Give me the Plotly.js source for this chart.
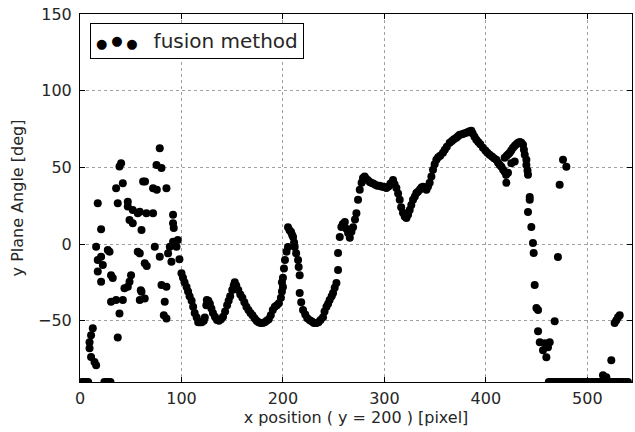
<!DOCTYPE html>
<html>
<head>
<meta charset="utf-8">
<script src="https://cdn.plot.ly/plotly-3.0.1.min.js"></script>
<style>html,body{margin:0;padding:0;background:#fff;}#chart{width:635px;height:432px;}</style>
</head>
<body>
<div id="chart"></div>
<script>
// Noisy start of the profile (x position, angle)
const noiseX = [2,4,6,8,9.4,9.4,10.9,10.9,12.6,14.3,15.9,15.9,17.5,17.5,17.5,20.8,20.8,20.8,22.5,24,26,28,30,27.4,29.1,30.6,32.3,30.6,35.6,37.2,35.6,37.2,38.9,38.9,40.5,42.2,42.2,43.8,47.1,47.1,47.1,48.8,48.8,50.3,52,52,56.9,56.9,58.9,58.9,58.9,59.9,60.6,60.6,62.2,64.1,63.8,63.8,65.5,65.8,72,72,73.7,75.4,75.7,78.6,78.6,80.3,80.3,82.6,83.5,85.2,85.2,85.2,86.8,88.5,90.1,91.7,91.7,92.4,91.7,95.1,96.4];
const noiseY = [-90,-90,-90,-90,-64,-68,-59.5,-73.7,-55,-77,-79,-1.8,-10.5,-18,26.6,-8.3,-24.6,9.6,-13.7,-90,-90,-90,-90,-3.9,-5,-20.3,-22.2,-37.7,-36.6,-61,36.4,26.6,-45.3,50.5,52.7,39.7,-36.6,-28.8,27.6,24.4,-27.9,15.7,-24.6,-20.3,22.2,13.5,20.1,-5,21.1,-6.1,-36.6,-30.1,9.2,-31.2,40.7,40.7,-12.6,-35.5,20.1,-14.4,36.4,20.1,-1.8,51.6,35.3,62.5,-8.3,49.5,-26.8,-46.4,-37.7,36.4,-27.9,-48.6,-6.1,-1.8,-11.6,19,13.5,10.5,1.5,-1.8,2.6];

// Main continuous part of the profile
const curveX = [98,100,101.5,103,105,106.5,108,110,111.5,113,115,116.5,118,120,122,123,124.5,125,126.5,128,129.5,131,133,135,137,139,141,143,145,146.5,148,150,151.5,152.5,154,156,158,160,162,164,166,168,170,172,174,176,178,180,182,184,186,188,190,192,194,196,198,199,200,199,200,201,202,203.5,205,205,206.5,208,209,210,211,211.6,213,214.9,215.5,216.5,216.5,218,219.8,222,224,226.4,228.5,230.5,233,235,237,239.5,241,242.9,244.5,246,248,249.4,251,252.7,254.3,254.3,256,257.6,259,261,262.5,264.2,265.9,267.5,269.1,271,272.4,274,275.7,277.5,278.9,280.5,282,283.8,285.5,287,289,291,293,295,297,298.6,300.5,302,304,306,308.5,310,311.8,313.5,315.1,316.5,318.3,320,321.7,323.3,324.9,326.5,328.2,330,331.5,333,335,336.5,338,340,341.4,343,344.6,346.3,347.9,349.5,351.2,353,355,357.7,359.5,361.5,364.3,366.5,368.5,370.9,372.5,374.2,376.5,378.5,380.8,382.5,384,385.7,387,388.8,390.6,392.5,394.5,397.1,399.5,401.5,403.7,406,408,410.3,412,413.7,415.3,417,418.5,420,421.8,420.2,418.5,420.5,422,423.5,425.1,425,426.7,428.4,428.5,430,431.7,433.5,435,436.6,437.5,438.3,439.9,439.9,441,441.5];
const curveY = [-10,-19,-22,-25,-28,-31,-34,-37,-41,-45,-48,-51,-51,-51,-50,-48,-40,-36.6,-37,-39,-42,-45,-47.5,-49.5,-50,-49,-47.5,-44,-40,-37,-34,-30,-27,-25,-27,-30,-33,-35,-38,-41,-43,-45,-46.5,-48.5,-50,-51,-51.5,-51.5,-51,-50,-49,-46.5,-43,-41,-40,-38.6,-35,-31,-28,-25,-22,-16,-10.5,-5,-2,11,9,7.8,6,4.6,1,-2,-6,-10.5,-15,-20.3,-32,-38,-43,-46,-48.5,-49.7,-50.5,-51.5,-51.6,-51,-49.5,-47.7,-44,-41,-39,-36.6,-34,-32,-28.5,-25.5,-17,-5.9,4.6,11.1,13,14.4,10,7.2,4,8,11,16,20,28.8,35.3,40,43.1,44,42.5,41.5,40.5,40,39.5,38.6,38,38,37.5,37.3,37,36.6,37.5,39.5,41.8,39,36.6,33,28.8,24,20.3,18,17,19,22.2,25.5,28.8,31,33.3,34,35.5,36.8,37.3,36.5,35.3,37.5,39.9,44,48.4,52,54.9,56.5,57.5,59.5,61.5,63.5,66,67.2,68.3,69.3,70.3,71.2,71.6,72,72.5,73,73.5,73.9,72,70,68,66.5,65,62.7,61,59.5,58.2,57,56,54.9,53,51.5,50.3,48.5,47.1,45,46.4,39.9,56.2,57.5,58.5,59.5,52.7,61,62.7,53.8,64,65,66,66.5,66,64.7,61.5,58.2,54.9,51.6,48,45.1];

// Falling tail and scattered points on the right
const tailX = [443.2,443.2,441.5,444.8,446.4,447.1,448.1,449.8,451.4,451.4,453.1,456.3,458,459.6,461.2,462.9,467.8,471,472.7,476,479.3,515.4,518.7,523.6,526.9,528.6,530.2,531.9];
const tailY = [30.7,28.8,20.9,11.1,0.7,-5.9,-26.8,-41.8,-43.1,-56.9,-64.1,-69.3,-64.7,-73.9,-67.3,-64.1,-50.3,-8.5,38.6,54.9,50.3,-85.6,-86.9,-75.8,-51.6,-49.7,-47.7,-46.4];

// Points sitting on the lower limit at the right end
const floorX = [462,464,466,468,470,472,474,476,478,480,482,484,486,488,490,492,494,496,498,500,502,504,506,508,510,512,514,516,518,520,522,524,526,528,530,532,534,536,538,540];
const floorY = [-90,-90,-90,-90,-90,-90,-90,-90,-90,-90,-90,-90,-90,-90,-90,-90,-90,-90,-90,-90,-90,-90,-90,-90,-90,-90,-90,-90,-90,-90,-90,-90,-90,-90,-90,-90,-90,-90,-90,-90];

const xTicks = [0,100,200,300,400,500];
const yTicks = [-50,0,50,100,150];
const seriesName = 'fusion method';

const xs = noiseX.concat(curveX, tailX, floorX);
const ys = noiseY.concat(curveY, tailY, floorY);

const font = 'DejaVu Sans, Liberation Sans, sans-serif';
const txt = '#262626';
const axisCommon = {
  ticks: 'inside', ticklen: 5, tickwidth: 1, tickcolor: '#000',
  showline: true, mirror: 'ticks', linecolor: '#000', linewidth: 1,
  showgrid: true, gridcolor: '#a0a0a0', gridwidth: 1, griddash: 'dot',
  zeroline: false, tickfont: {family: font, size: 16, color: txt}
};

const trace = {
  x: xs, y: ys, type: 'scatter', mode: 'markers', name: seriesName,
  marker: {color: '#000', size: 8, line: {width: 0}},
  showlegend: false, cliponaxis: true
};

const dotLow = '<span style="font-size:13px;color:#000">●</span>';
const dotHigh = '<span style="font-size:13px;color:#000;baseline-shift:3px">●</span>';
const gap = '<span style="font-size:12px"> </span>';

const layout = {
  width: 635, height: 432,
  margin: {l: 80, r: 3, t: 14, b: 50},
  paper_bgcolor: '#fff', plot_bgcolor: '#fff',
  font: {family: font, color: txt},
  xaxis: Object.assign({}, axisCommon, {
    range: [0, 544], tickvals: xTicks, ticklabelstandoff: 2,
    title: {text: 'x position ( y = 200 ) [pixel]', font: {family: font, size: 16, color: txt}, standoff: 4}
  }),
  yaxis: Object.assign({}, axisCommon, {
    range: [-90, 150], tickvals: yTicks, ticklabelstandoff: 4,
    title: {text: 'y Plane Angle [deg]', font: {family: font, size: 16, color: txt}, standoff: 10}
  }),
  annotations: [{
    xref: 'paper', yref: 'paper', x: 0.018, y: 0.976, xanchor: 'left', yanchor: 'top',
    showarrow: false, align: 'left',
    text: dotLow + gap + dotHigh + gap + dotLow + '<span style="font-size:20px">  </span><span style="font-size:10px"> </span>' + seriesName,
    font: {family: font, size: 20, color: txt},
    bordercolor: '#000', borderwidth: 1, borderpad: 5, bgcolor: '#fff'
  }]
};

Plotly.newPlot('chart', [trace], layout, {staticPlot: true, displayModeBar: false});
</script>
</body>
</html>
